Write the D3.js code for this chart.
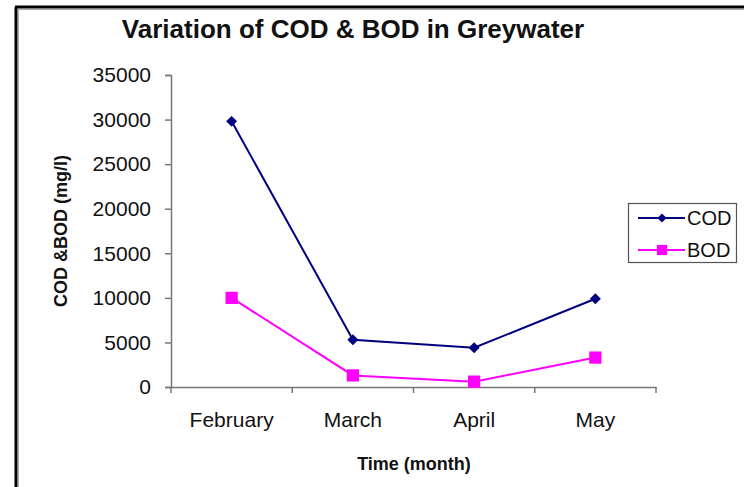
<!DOCTYPE html>
<html>
<head>
<meta charset="utf-8">
<script src="https://cdn.jsdelivr.net/npm/d3@7"></script>
<style>
  body { margin: 0; background: #fff; }
  text { font-family: "Liberation Sans", Arial, sans-serif; fill: #111; }
</style>
</head>
<body>
<svg id="chart" width="744" height="487"></svg>
<script>
// data
const months = ["February", "March", "April", "May"];
const cod = [29800, 5300, 4400, 9900];
const bod = [10000, 1300, 600, 3300];
const yTicks = [0, 5000, 10000, 15000, 20000, 25000, 30000, 35000];

const svg = d3.select("#chart");

// outer frame (only top and left edges show)
svg.append("line").attr("x1", 16).attr("x2", 16).attr("y1", 7).attr("y2", 487)
  .attr("stroke", "#000").attr("stroke-width", 3);
svg.append("line").attr("x1", 18.5).attr("x2", 18.5).attr("y1", 9).attr("y2", 487)
  .attr("stroke", "#aaa").attr("stroke-width", 1);
svg.append("line").attr("x1", 15).attr("x2", 744).attr("y1", 7).attr("y2", 7)
  .attr("stroke", "#000").attr("stroke-width", 3);
svg.append("line").attr("x1", 18).attr("x2", 744).attr("y1", 9.5).attr("y2", 9.5)
  .attr("stroke", "#aaa").attr("stroke-width", 1);

const x = d3.scaleBand().domain(months).range([171, 656]).padding(0);
const y = d3.scaleLinear().domain([0, 35000]).range([387, 75]);
const cx = d => x(d) + x.bandwidth() / 2;

// y axis
const yAxis = svg.append("g").attr("transform", "translate(171,0)")
  .call(d3.axisLeft(y).tickValues(yTicks).tickSize(6).tickPadding(14).tickFormat(d3.format("d")));
yAxis.select(".domain").attr("stroke", "#777").attr("stroke-width", 1.5);
yAxis.selectAll(".tick line").attr("stroke", "#777").attr("stroke-width", 1.5);
yAxis.selectAll(".tick text").attr("font-size", 21).attr("fill", "#111")
  .style("font-family", "'Liberation Sans', Arial, sans-serif");

// x axis: labels centred in bands, ticks on band edges
const xAxis = svg.append("g").attr("transform", "translate(0,387)")
  .call(d3.axisBottom(x).tickSize(0).tickPadding(25));
xAxis.select(".domain").attr("stroke", "#777").attr("stroke-width", 1.5);
xAxis.selectAll(".tick text").attr("font-size", 21).attr("fill", "#111")
  .style("font-family", "'Liberation Sans', Arial, sans-serif");
xAxis.selectAll(".edge").data(months.map(m => x(m)).concat([x.range()[1]]))
  .join("line").attr("class", "edge")
  .attr("x1", d => d).attr("x2", d => d).attr("y1", 0).attr("y2", 6)
  .attr("stroke", "#777").attr("stroke-width", 1.5);

// series (COD marker = square turned 45deg)
const series = [
  { name: "COD", values: cod, color: "#000080", shape: d3.symbolSquare, size: 60, rot: 45 },
  { name: "BOD", values: bod, color: "#ff00ff", shape: d3.symbolSquare, size: 150, rot: 0 }
];
const line = d3.line().x((d, i) => cx(months[i])).y(d => y(d));

series.forEach(s => {
  svg.append("path").datum(s.values).attr("d", line)
    .attr("fill", "none").attr("stroke", s.color).attr("stroke-width", 2);
  svg.selectAll(null).data(s.values).join("path")
    .attr("d", d3.symbol().type(s.shape).size(s.size))
    .attr("transform", (d, i) => `translate(${cx(months[i])},${y(d)}) rotate(${s.rot})`)
    .attr("fill", s.color);
});

// titles
svg.append("text").attr("x", 353).attr("y", 38).attr("text-anchor", "middle")
  .attr("font-size", 26).attr("font-weight", "bold").attr("fill", "#1a1a1a")
  .text("Variation of COD & BOD in Greywater");
svg.append("text").attr("x", 414).attr("y", 470).attr("text-anchor", "middle")
  .attr("font-size", 18).attr("font-weight", "bold").text("Time (month)");
svg.append("text").attr("transform", "translate(67,231) rotate(-90)").attr("text-anchor", "middle")
  .attr("font-size", 18).attr("font-weight", "bold").text("COD &BOD (mg/l)");

// legend
const lg = svg.append("g");
lg.append("rect").attr("x", 628.5).attr("y", 203.5).attr("width", 108).attr("height", 59)
  .attr("fill", "#fff").attr("stroke", "#555").attr("stroke-width", 1.2);
series.forEach((s, i) => {
  const ly = 218 + i * 32;
  lg.append("line").attr("x1", 638).attr("x2", 685).attr("y1", ly).attr("y2", ly)
    .attr("stroke", s.color).attr("stroke-width", 2);
  lg.append("path").attr("d", d3.symbol().type(s.shape).size(s.size * 0.7))
    .attr("transform", `translate(662,${ly}) rotate(${s.rot})`).attr("fill", s.color);
  lg.append("text").attr("x", 687).attr("y", ly + 7).attr("font-size", 20)
    .attr("fill", "#444").text(s.name);
});
</script>
</body>
</html>
